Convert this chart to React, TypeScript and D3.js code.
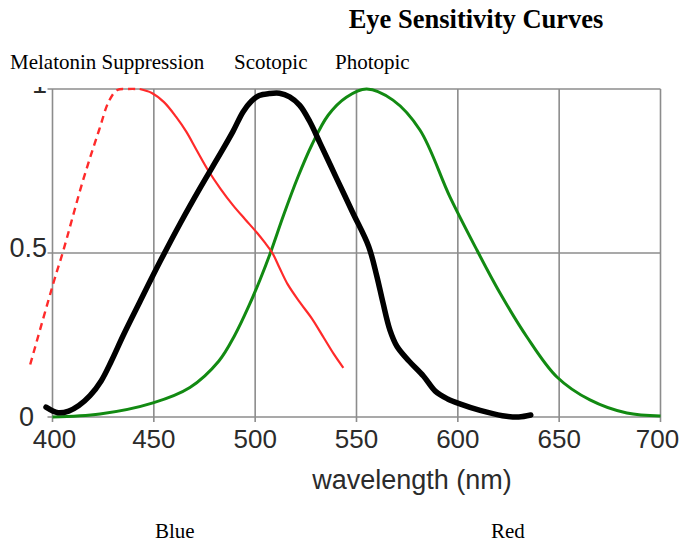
import React from "react";
import * as d3 from "d3";

// [wavelength nm, relative sensitivity]
const melatoninDashed: [number, number][] = [
  [389, 0.16], [401, 0.42], [405, 0.5], [415, 0.72], [423, 0.875],
  [428, 0.965], [432, 0.997], [437, 1.0], [443, 1.0],
];
const melatoninSolid: [number, number][] = [
  [443, 1.0], [449, 0.988], [455, 0.96], [461, 0.915], [466, 0.87],
  [471, 0.815], [477, 0.75], [483, 0.695], [489, 0.646], [495, 0.603],
  [501, 0.561], [505, 0.53], [508.5, 0.5], [512, 0.455], [516, 0.405],
  [522, 0.35], [528, 0.3], [534, 0.24], [539, 0.19], [543.5, 0.15],
];
const scotopic: [number, number][] = [
  [396.8, 0.03], [402.7, 0.013], [408, 0.018], [413, 0.035], [418.5, 0.065],
  [424, 0.11], [429, 0.17], [435, 0.25], [443, 0.35], [453, 0.473],
  [463, 0.59], [473, 0.7], [483, 0.805], [489, 0.87], [494, 0.93],
  [498, 0.962], [502, 0.98], [507, 0.986], [512, 0.987], [517, 0.976],
  [522, 0.95], [527, 0.9], [532, 0.835], [540, 0.73], [548, 0.625],
  [556, 0.52], [560, 0.43], [563, 0.35], [566.5, 0.265], [570, 0.215],
  [576, 0.17], [583, 0.125], [589, 0.078], [595, 0.055], [601, 0.04],
  [611, 0.02], [622, 0.004], [630, 0.0], [636, 0.006],
];
const photopic: [number, number][] = [
  [400, 0.0], [423.4, 0.009], [449.6, 0.043], [467.8, 0.09], [482, 0.17],
  [490, 0.25], [497, 0.34], [502.5, 0.42], [507.5, 0.5], [514, 0.615],
  [521, 0.73], [528, 0.83], [536, 0.92], [545, 0.975], [555, 1.0],
  [568, 0.966], [581.3, 0.875], [596.1, 0.671], [609.4, 0.509], [620.8, 0.378],
  [634.1, 0.244], [648.9, 0.122], [665.2, 0.052], [683.4, 0.012], [700, 0.003],
];

const xTicks = [400, 450, 500, 550, 600, 650, 700];
const yTicks = [0, 0.5, 1];
const yTickLabels = ["0", "0.5", "1"];
const curveLabels = ["Melatonin Suppression", "Scotopic", "Photopic"];
const colorLabels = ["Blue", "Red"];

export default function App() {
  const width = 681;
  const height = 545;

  const xScale = d3.scaleLinear().domain([400, 700]).range([52.5, 660.5]);
  const yScale = d3.scaleLinear().domain([0, 1]).range([417, 89]);

  const line = d3
    .line<[number, number]>()
    .x((d) => xScale(d[0]))
    .y((d) => yScale(d[1]))
    .curve(d3.curveCatmullRom.alpha(0.5));

  const sans = "Liberation Sans, Arial, sans-serif";
  const serif = "Liberation Serif, Times New Roman, serif";
  const curveLabelX = [10, 234, 335];
  const colorLabelX = [155, 491];
  // small nudges so the end labels sit inside the picture like the original
  const xLabelNudge = (t: number) => (t === 400 ? 2 : t === 700 ? -3 : 0);

  return (
    <svg
      width={width}
      height={height}
      style={{ position: "absolute", left: 0, top: 0, background: "#fff" }}
    >
      <defs>
        <clipPath id="topclip">
          <rect x={0} y={yScale(1) - 2} width={width} height={height} />
        </clipPath>
      </defs>

      {/* title */}
      <text
        x={476}
        y={28}
        textAnchor="middle"
        fontFamily={serif}
        fontWeight="bold"
        fontSize={26.5}
      >
        Eye Sensitivity Curves
      </text>

      {curveLabels.map((t, i) => (
        <text key={t} x={curveLabelX[i]} y={69} fontFamily={serif} fontSize={21}>
          {t}
        </text>
      ))}

      {/* grid */}
      <g stroke="#8c8c8c" strokeWidth={1.6}>
        {xTicks.map((t) => (
          <line
            key={t}
            x1={xScale(t)}
            x2={xScale(t)}
            y1={yScale(1)}
            y2={yScale(0) + 5}
          />
        ))}
        {yTicks.map((t) => (
          <line
            key={t}
            x1={xScale(400) - 5}
            x2={xScale(700)}
            y1={yScale(t)}
            y2={yScale(t)}
          />
        ))}
      </g>

      {/* y tick labels */}
      <g fontFamily={sans} fontSize={27} fill="#2b2b2b" clipPath="url(#topclip)">
        {yTicks.map((t, i) => (
          <text
            key={t}
            x={t === 0 ? 34 : 47}
            y={yScale(t) + (t === 0 ? 0 : -5)}
            textAnchor="end"
            dominantBaseline="central"
          >
            {yTickLabels[i]}
          </text>
        ))}
      </g>

      {/* x tick labels */}
      <g fontFamily={sans} fontSize={26} fill="#2b2b2b" textAnchor="middle">
        {xTicks.map((t) => (
          <text key={t} x={xScale(t) + xLabelNudge(t)} y={448}>
            {t}
          </text>
        ))}
      </g>
      <text
        x={412}
        y={489}
        textAnchor="middle"
        fontFamily={sans}
        fontSize={27}
        fill="#2b2b2b"
      >
        wavelength (nm)
      </text>

      {/* curves */}
      <path
        d={line(photopic) || ""}
        fill="none"
        stroke="#128a12"
        strokeWidth={3}
      />
      <path
        d={line(melatoninDashed) || ""}
        fill="none"
        stroke="#ff2a2a"
        strokeWidth={2.4}
        strokeDasharray="7,5"
      />
      <path
        d={line(melatoninSolid) || ""}
        fill="none"
        stroke="#ff2a2a"
        strokeWidth={2.2}
      />
      <path
        d={line(scotopic) || ""}
        fill="none"
        stroke="#000"
        strokeWidth={5.5}
        strokeLinejoin="round"
        strokeLinecap="round"
      />

      {colorLabels.map((t, i) => (
        <text key={t} x={colorLabelX[i]} y={538} fontFamily={serif} fontSize={21}>
          {t}
        </text>
      ))}
    </svg>
  );
}
